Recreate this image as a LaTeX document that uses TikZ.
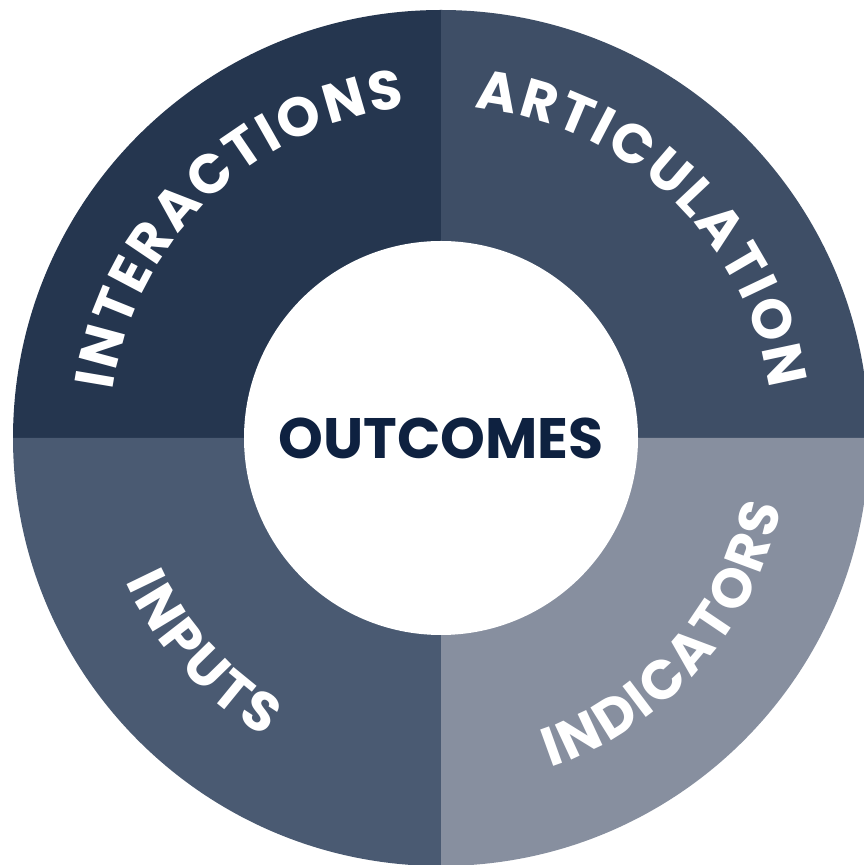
\documentclass[tikz,border=0pt]{standalone}
\usepackage{fontspec}
\setmainfont{Poppins}
\newfontfamily\ringfamily{Poppins}
\usetikzlibrary{calc}

\definecolor{quadTL}{HTML}{25364F}
\definecolor{quadTR}{HTML}{3E4E66}
\definecolor{quadBL}{HTML}{4A5A72}
\definecolor{quadBR}{HTML}{878F9F}
\definecolor{coreText}{HTML}{0E2140}

\newcommand\ringsetfont{\ringfamily\bfseries\fontsize{55}{55}\selectfont}

\tikzset{
  quadrant/.style={fill=#1, draw=none},
  ringletter/.style={anchor=base, inner sep=0pt, font=\ringsetfont, text=white},
}

\newdimen\ringtot
\newdimen\ringpos
\newbox\ringbox

\makeatletter
% Measures each letter of a label (before the picture) and stores
% the widths as pt numbers: \ringw<name><k>, total in \ringt<name>.
% #1 name, #2 letters, #3 extra tracking between letters
\newcommand\ringmeasure[3]{%
  \global\ringtot=0pt
  \foreach \ch [count=\k] in {#2}{%
    \setbox\ringbox=\hbox{\ringsetfont\ch}%
    \expandafter\xdef\csname ringw#1\k\endcsname{\strip@pt\wd\ringbox}%
    \global\advance\ringtot by \wd\ringbox
    \global\advance\ringtot by #3\relax
  }%
  \global\advance\ringtot by -#3\relax
  \expandafter\xdef\csname ringt#1\endcsname{\strip@pt\ringtot}%
}

% Places the letters one by one along a circle around (c).
% #1 name, #2 letters, #3 centre angle, #4 baseline radius,
% #5 +1 reads clockwise (tops out) / -1 reads counter-clockwise (tops in),
% #6 extra tracking (pt number)
\newcommand\ringlabel[6]{%
  \global\ringpos=0pt
  \foreach \ch [count=\k] in {#2}{%
    \edef\ringcw{\csname ringw#1\k\endcsname}%
    \edef\ringct{\csname ringt#1\endcsname}%
    \edef\ringcp{\strip@pt\ringpos}%
    \pgfmathsetmacro\ringang{#3 - (#5)*(\ringcp + 0.5*\ringcw - 0.5*\ringct)/(#4)*180/pi}%
    \node[ringletter, rotate=\ringang-(#5)*90] (#1-\k) at ($(c)+(\ringang:#4)$) {\ch};
    \global\advance\ringpos by \ringcw pt
    \global\advance\ringpos by #6pt\relax
  }%
}
\makeatother

\begin{document}
\ringmeasure{inter}{I,N,T,E,R,A,C,T,I,O,N,S}{3pt}
\ringmeasure{artic}{A,R,T,I,C,U,L,A,T,I,O,N}{3pt}
\ringmeasure{input}{I,N,P,U,T,S}{3pt}
\ringmeasure{indic}{I,N,D,I,C,A,T,O,R,S}{2.5pt}
\begin{tikzpicture}[x=1pt,y=1pt]
  \useasboundingbox (0,0) rectangle (863,865);
  \coordinate (c) at (441,427);

  % four quadrants of the outer ring
  \fill[quadrant=quadTL] (c) -- ++(180:428) arc[start angle=180, end angle=90,  radius=428] -- cycle;
  \fill[quadrant=quadTR] (c) -- ++(90:428)  arc[start angle=90,  end angle=0,   radius=428] -- cycle;
  \fill[quadrant=quadBL] (c) -- ++(180:428) arc[start angle=180, end angle=270, radius=428] -- cycle;
  \fill[quadrant=quadBR] (c) -- ++(270:428) arc[start angle=270, end angle=360, radius=428] -- cycle;

  % white core
  \fill[white] (c) circle[radius=197];
  \node[font=\bfseries\fontsize{57}{57}\selectfont, text=coreText, inner sep=0pt] (core) at (c) {OUTCOMES};

  % curved labels: top ones read clockwise, bottom ones counter-clockwise
  \ringlabel{inter}{I,N,T,E,R,A,C,T,I,O,N,S}{134}{332}{1}{3}
  \ringlabel{artic}{A,R,T,I,C,U,L,A,T,I,O,N}{46.3}{332}{1}{3}
  \ringlabel{input}{I,N,P,U,T,S}{222}{347}{-1}{3}
  \ringlabel{indic}{I,N,D,I,C,A,T,O,R,S}{318.5}{347}{-1}{2.5}
\end{tikzpicture}
\end{document}
